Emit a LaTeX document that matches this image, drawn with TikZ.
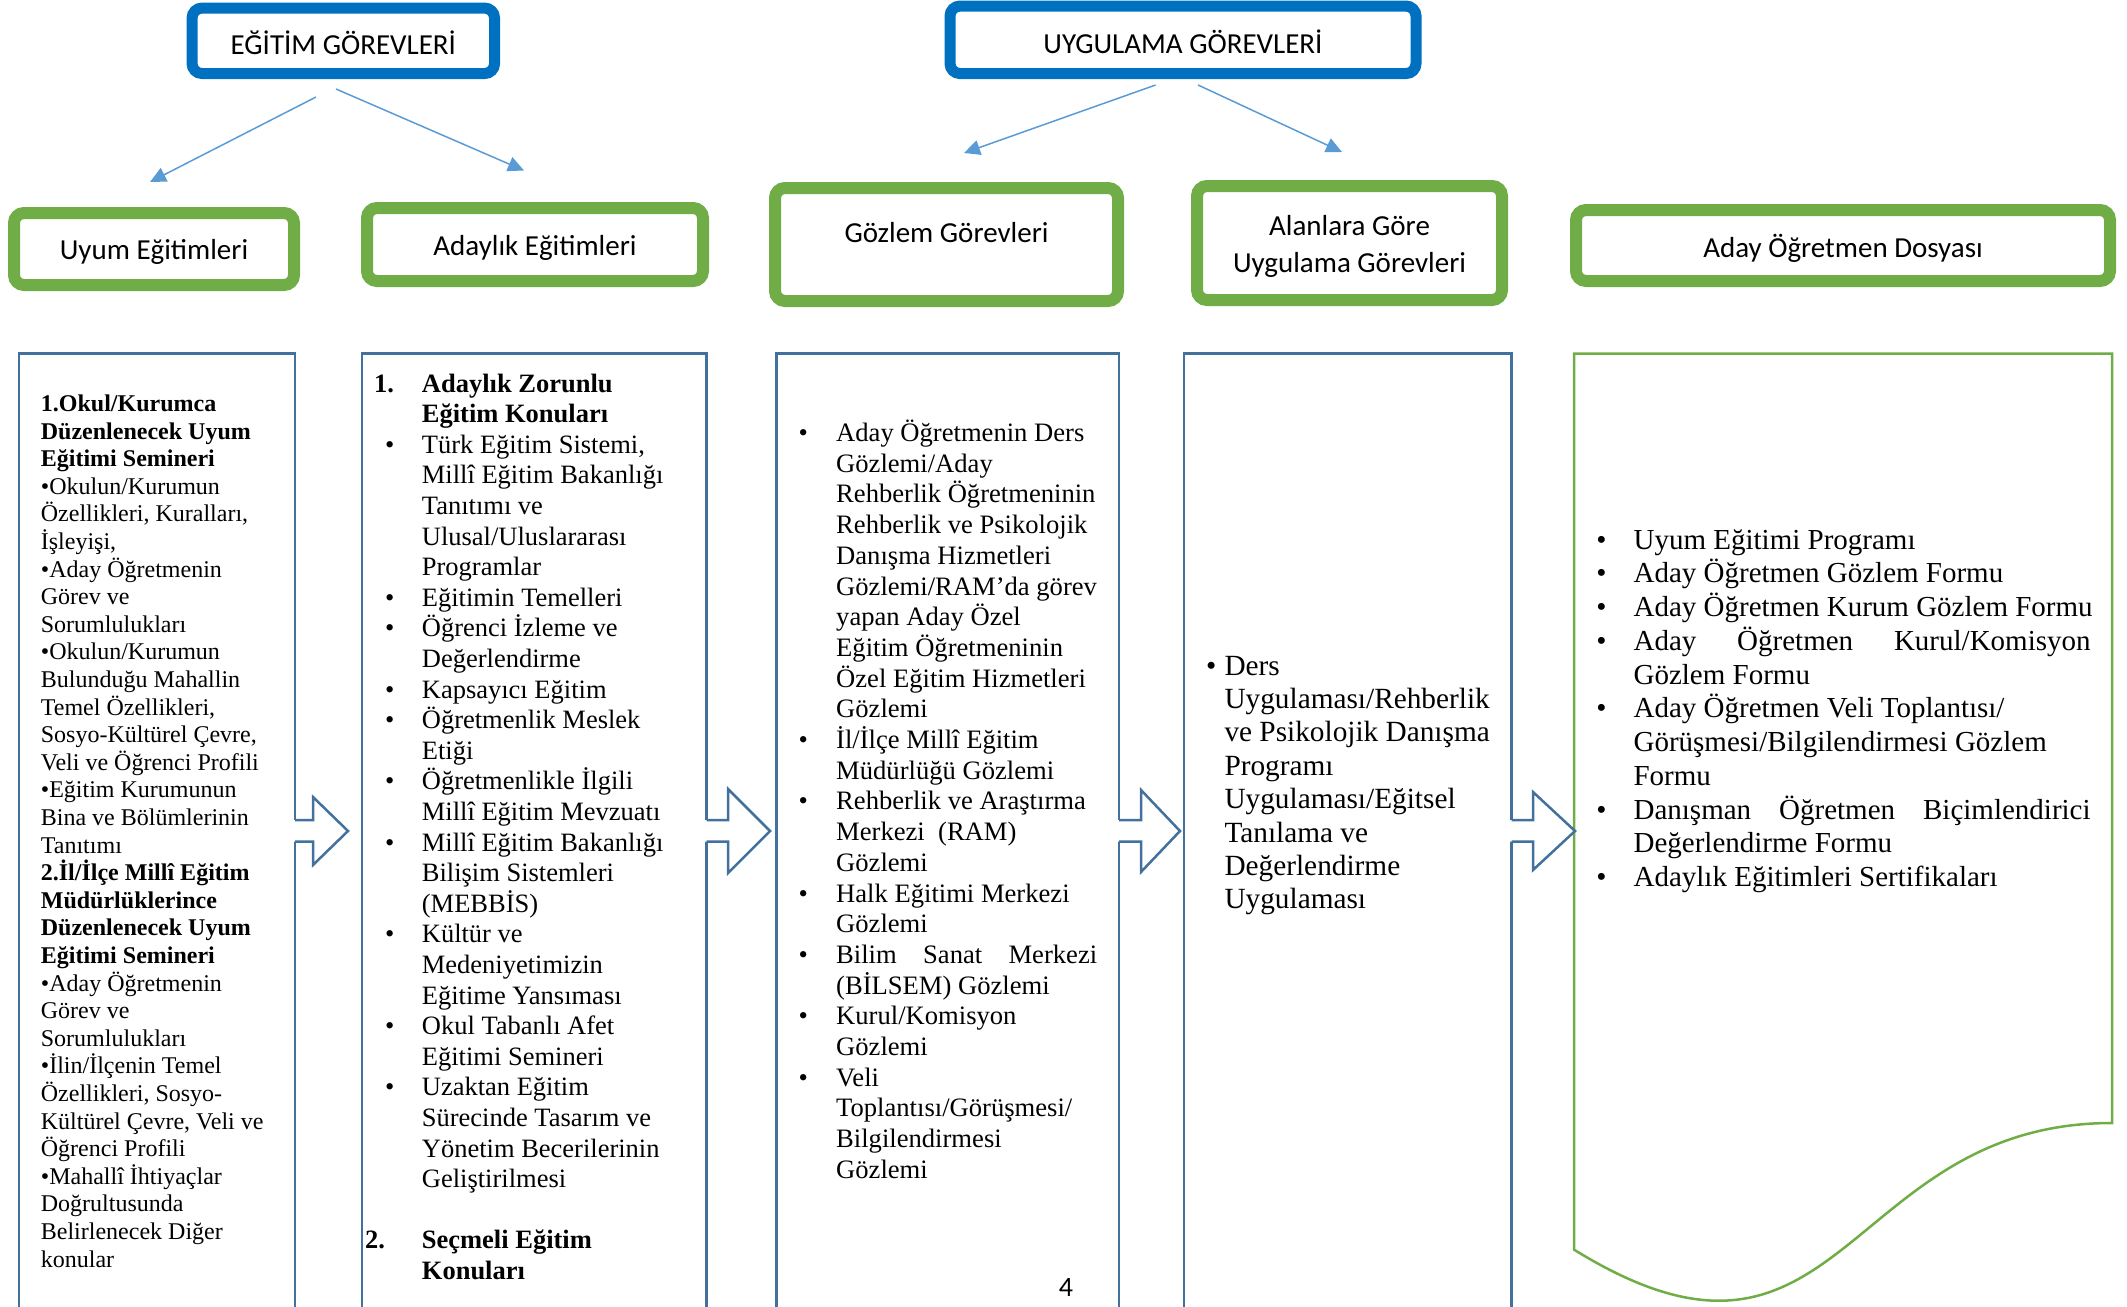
\documentclass[tikz,border=0pt]{standalone}
\usepackage{fontspec}
\setmainfont{Liberation Serif}
\newfontfamily\calibri{Carlito}
\usetikzlibrary{arrows.meta}

\definecolor{titleblue}{HTML}{0070C0}
\definecolor{boxgreen}{HTML}{70AD47}
\definecolor{frameblue}{HTML}{41719C}
\definecolor{linkblue}{HTML}{5B9BD5}

\newlength\markw
\newcommand\bul{\makebox[\markw][l]{\textbullet}}
\newcommand\cont{\hspace*{\markw}}
\newcommand\kaydir[2]{\raisebox{#1}[\height][\depth]{#2}}

\tikzset{
  titlebox/.style={draw=titleblue, line width=11pt, rounded corners=10pt, align=center, inner sep=0pt,
    font=\calibri\fontsize{29}{35.4}\selectfont},
  greenbox/.style={titlebox, draw=boxgreen, line width=12pt},
  framebox/.style={draw=frameblue, line width=2.5pt, anchor=north west, outer sep=0pt, minimum height=960pt},
  linkarrow/.style={linkblue, line width=1.5pt, -{Triangle[length=16pt,width=15pt]}},
  listtext/.style={anchor=base west, inner sep=0pt},
}

\begin{document}
\begin{tikzpicture}[x=1pt, y=-1pt]
\useasboundingbox (0,0) rectangle (2127,1306);
\clip (0,0) rectangle (2127,1306);

% top level
\node[titlebox, minimum width=302.5pt, minimum height=65.5pt] (egitim) at (343.3,40.8) {\kaydir{-1.5pt}{EĞİTİM GÖREVLERİ}};
\node[titlebox, minimum width=466pt, minimum height=67.5pt] (uygulama) at (1183,39.8) {\kaydir{-1.5pt}{UYGULAMA GÖREVLERİ}};

% second level
\node[greenbox, minimum width=280pt, minimum height=72pt] (uyum) at (154,249) {\kaydir{-3pt}{Uyum Eğitimleri}};
\node[greenbox, minimum width=336pt, minimum height=73pt] (adaylik) at (535,244.5) {\kaydir{-3pt}{Adaylık Eğitimleri}};
\node[greenbox, minimum width=343pt, minimum height=113pt] (gozlem) at (946.5,244.5) {\kaydir{11.5pt}{Gözlem Görevleri}};
\node[greenbox, minimum width=305pt, minimum height=114pt, font=\calibri\fontsize{29}{37}\selectfont] (alan) at (1349.5,243)
  {\kaydir{-3.5pt}{Alanlara Göre}\\\kaydir{-3.5pt}{Uygulama Görevleri}};
\node[greenbox, minimum width=534pt, minimum height=71pt] (dosya) at (1843,245.5) {\kaydir{-3pt}{Aday Öğretmen Dosyası}};

% thin arrows
\coordinate (egitimsol) at (316,97);
\coordinate (egitimsag) at (336,89);
\coordinate (uyumust) at (150,182);
\coordinate (adayust) at (524,170.5);
\coordinate (uygulamasol) at (1155.6,85);
\coordinate (uygulamasag) at (1198,85);
\coordinate (gozlemust) at (964,153);
\coordinate (alanust) at (1342,152);
\draw[linkarrow] (egitimsol) -- (uyumust);
\draw[linkarrow] (egitimsag) -- (adayust);
\draw[linkarrow] (uygulamasol) -- (gozlemust);
\draw[linkarrow] (uygulamasag) -- (alanust);

% content frames
\node[framebox, minimum width=276pt] (uyumkutu) at (19,353.5) {};
\node[framebox, minimum width=344.7pt] (adaykutu) at (362,353.5) {};
\node[framebox, minimum width=342.3pt] (gozlemkutu) at (776.7,353.5) {};
\node[framebox, minimum width=327.7pt] (alankutu) at (1184,353.5) {};
\draw[boxgreen, line width=2.5pt] (1574,353.5) -- (2112,353.5) -- (2112,1123)
  .. controls (1843,1123) and (1843,1416) .. (1574,1249.6) -- cycle; % document shape

% block arrows
\foreach \a/\b/\c/\h in {295/313/348/34, 706.7/728/770/42, 1119/1141/1180/41, 1511.7/1533/1575/39}{
  \fill[white] ({\a-2},820) -- (\b,820) -- (\b,{831-\h}) -- (\c,831) -- (\b,{831+\h}) -- (\b,841.5) -- ({\a-2},841.5) -- cycle;
  \draw[frameblue, line width=2.5pt] (\a,820) -- (\b,820) -- (\b,{831-\h}) -- (\c,831) -- (\b,{831+\h}) -- (\b,841.5) -- (\a,841.5);
}

% texts
\node[listtext, font=\fontsize{24}{27.6}\selectfont] (uyumliste) at (40.7,411.5) {\parbox[t]{300pt}{\raggedright
\textbf{1.Okul/Kurumca}\\
\textbf{Düzenlenecek Uyum}\\
\textbf{Eğitimi Semineri}\\
•Okulun/Kurumun\\
Özellikleri, Kuralları,\\
İşleyişi,\\
•Aday Öğretmenin\\
Görev ve\\
Sorumlulukları\\
•Okulun/Kurumun\\
Bulunduğu Mahallin\\
Temel Özellikleri,\\
Sosyo-Kültürel Çevre,\\
Veli ve Öğrenci Profili\\
•Eğitim Kurumunun\\
Bina ve Bölümlerinin\\
Tanıtımı\\
\textbf{2.İl/İlçe Millî Eğitim}\\
\textbf{Müdürlüklerince}\\
\textbf{Düzenlenecek Uyum}\\
\textbf{Eğitimi Semineri}\\
•Aday Öğretmenin\\
Görev ve\\
Sorumlulukları\\
•İlin/İlçenin Temel\\
Özellikleri, Sosyo-\\
Kültürel Çevre, Veli ve\\
Öğrenci Profili\\
•Mahallî İhtiyaçlar\\
Doğrultusunda\\
Belirlenecek Diğer\\
konular}};

\node[listtext, font={\fontsize{26.5}{30.6}\selectfont\setlength\markw{36.7pt}}] (adayliste) at (385,392) {\parbox[t]{400pt}{\raggedright
\makebox[\markw][l]{\hspace*{-11pt}\textbf{1.}}\textbf{Adaylık Zorunlu}\\
\cont\textbf{Eğitim Konuları}\\
\bul Türk Eğitim Sistemi,\\
\cont Millî Eğitim Bakanlığı\\
\cont Tanıtımı ve\\
\cont Ulusal/Uluslararası\\
\cont Programlar\\
\bul Eğitimin Temelleri\\
\bul Öğrenci İzleme ve\\
\cont Değerlendirme\\
\bul Kapsayıcı Eğitim\\
\bul Öğretmenlik Meslek\\
\cont Etiği\\
\bul Öğretmenlikle İlgili\\
\cont Millî Eğitim Mevzuatı\\
\bul Millî Eğitim Bakanlığı\\
\cont Bilişim Sistemleri\\
\cont (MEBBİS)\\
\bul Kültür ve\\
\cont Medeniyetimizin\\
\cont Eğitime Yansıması\\
\bul Okul Tabanlı Afet\\
\cont Eğitimi Semineri\\
\bul Uzaktan Eğitim\\
\cont Sürecinde Tasarım ve\\
\cont Yönetim Becerilerinin\\
\cont Geliştirilmesi\\
\mbox{}\\
\makebox[\markw][l]{\hspace*{-20pt}\textbf{2.}}\textbf{Seçmeli Eğitim}\\
\cont\textbf{Konuları}}};

\node[listtext, font={\fontsize{26.6}{30.7}\selectfont\setlength\markw{37.7pt}}] (gozlemliste) at (798.3,441.5) {\parbox[t]{400pt}{\raggedright
\bul Aday Öğretmenin Ders\\
\cont Gözlemi/Aday\\
\cont Rehberlik Öğretmeninin\\
\cont Rehberlik ve Psikolojik\\
\cont Danışma Hizmetleri\\
\cont Gözlemi/RAM’da görev\\
\cont yapan Aday Özel\\
\cont Eğitim Öğretmeninin\\
\cont Özel Eğitim Hizmetleri\\
\cont Gözlemi\\
\bul İl/İlçe Millî Eğitim\\
\cont Müdürlüğü Gözlemi\\
\bul Rehberlik ve Araştırma\\
\cont Merkezi\ \ (RAM)\\
\cont Gözlemi\\
\bul Halk Eğitimi Merkezi\\
\cont Gözlemi\\
\bul\makebox[261pt][s]{Bilim Sanat Merkezi}\\
\cont (BİLSEM) Gözlemi\\
\bul Kurul/Komisyon\\
\cont Gözlemi\\
\bul Veli\\
\cont Toplantısı/Görüşmesi/\\
\cont Bilgilendirmesi\\
\cont Gözlemi}};

\node[listtext, font={\fontsize{29.3}{33.4}\selectfont\setlength\markw{18.3pt}}] (alanliste) at (1206,675) {\parbox[t]{400pt}{\raggedright
\bul Ders\\
\cont Uygulaması/Rehberlik\\
\cont ve Psikolojik Danışma\\
\cont Programı\\
\cont Uygulaması/Eğitsel\\
\cont Tanılama ve\\
\cont Değerlendirme\\
\cont Uygulaması}};

\node[listtext, font={\fontsize{29}{33.75}\selectfont\setlength\markw{37.2pt}}] (dosyaliste) at (1596.2,549) {\parbox[t]{520pt}{\raggedright
\bul Uyum Eğitimi Programı\\
\bul Aday Öğretmen Gözlem Formu\\
\bul Aday Öğretmen Kurum Gözlem Formu\\
\bul\makebox[457pt][s]{Aday Öğretmen Kurul/Komisyon}\\
\cont Gözlem Formu\\
\bul Aday Öğretmen Veli Toplantısı/\\
\cont Görüşmesi/Bilgilendirmesi Gözlem\\
\cont Formu\\
\bul\makebox[457pt][s]{Danışman Öğretmen Biçimlendirici}\\
\cont Değerlendirme Formu\\
\bul Adaylık Eğitimleri Sertifikaları}};

\node[font=\calibri\fontsize{28}{34}\selectfont, inner sep=0pt] (sayfano) at (1066,1287) {4}; % page number

\end{tikzpicture}
\end{document}
